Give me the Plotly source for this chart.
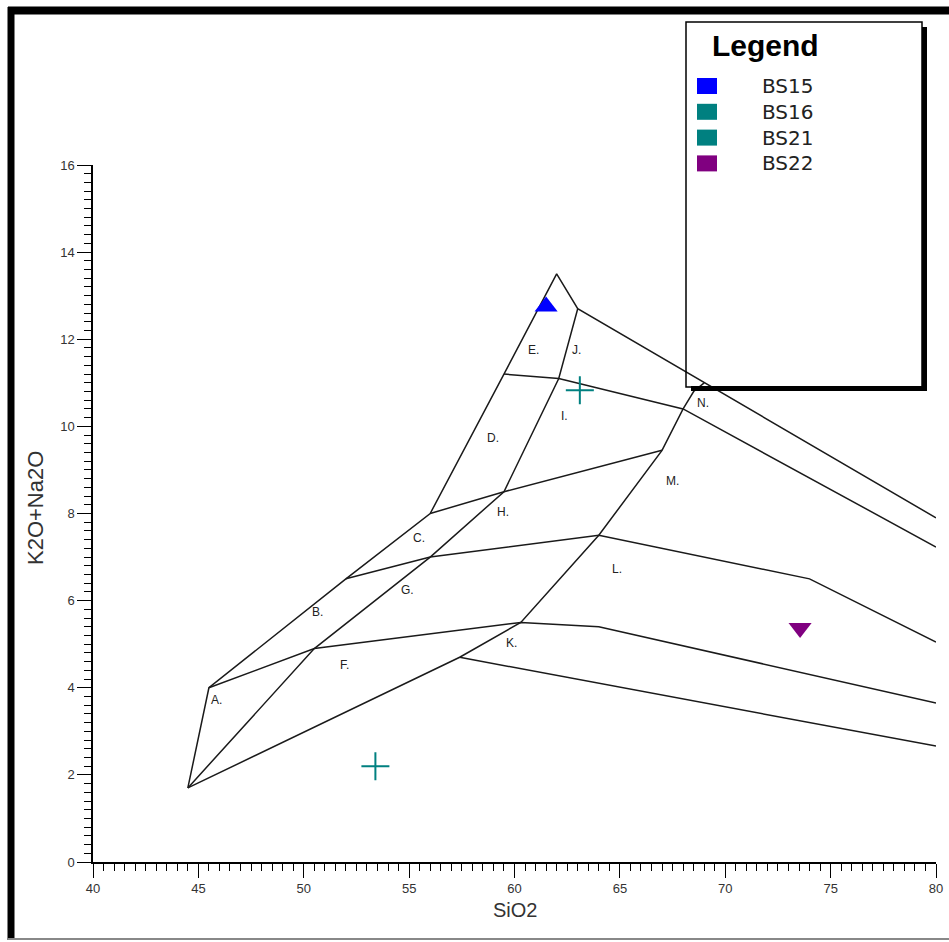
import plotly.graph_objects as go

# --- TAS classification boundary lines (SiO2, K2O+Na2O) ---
outer_x = [44.5, 45.5, 52.0, 56.0, 59.5, 62.0, 63.0, 80.0]
outer_y = [1.7, 4.0, 6.5, 8.0, 11.2, 13.5, 12.7, 7.9]

inner1_x = [44.5, 50.5, 56.0, 59.5, 62.1, 63.0]
inner1_y = [1.7, 4.9, 7.0, 8.5, 11.1, 12.7]

inner2_x = [44.5, 57.4, 60.3, 64.0, 67.0, 68.0, 68.5, 69.0]
inner2_y = [1.7, 4.7, 5.5, 7.5, 9.45, 10.4, 10.8, 11.0]

cross1_x = [45.5, 50.5, 60.3, 64.0, 80.0]
cross1_y = [4.0, 4.9, 5.5, 5.4, 3.65]

cross2_x = [52.0, 56.0, 64.0, 74.0, 80.0]
cross2_y = [6.5, 7.0, 7.5, 6.5, 5.05]

cross3_x = [56.0, 59.5, 67.0]
cross3_y = [8.0, 8.5, 9.45]

cross4_x = [59.5, 62.1, 68.0, 80.0]
cross4_y = [11.2, 11.1, 10.4, 7.23]

cross5_x = [57.4, 80.0]
cross5_y = [4.7, 2.66]

boundaries = [
    (outer_x, outer_y), (inner1_x, inner1_y), (inner2_x, inner2_y),
    (cross1_x, cross1_y), (cross2_x, cross2_y), (cross3_x, cross3_y),
    (cross4_x, cross4_y), (cross5_x, cross5_y),
]

# --- field labels ---
field_labels = ["A.", "B.", "C.", "D.", "E.", "F.", "G.", "H.", "I.", "J.", "K.", "L.", "M.", "N."]
field_x = [45.87, 50.64, 55.47, 58.98, 60.88, 51.92, 54.94, 59.46, 62.35, 62.92, 59.88, 64.87, 67.52, 68.95]
field_y = [3.71, 5.73, 7.43, 9.73, 11.75, 4.52, 6.24, 8.03, 10.24, 11.75, 5.02, 6.72, 8.74, 10.53]

# --- samples ---
sample_names = ["BS15", "BS16", "BS21", "BS22"]
sample_sio2 = [61.5, 63.1, 53.4, 73.55]
sample_alk = [12.75, 10.83, 2.2, 5.37]
sample_colors = ["#0000FF", "#008080", "#008080", "#800080"]
sample_symbols = ["triangle-up", "cross-thin", "cross-thin", "triangle-down"]

# --- layout geometry (pixels) ---
W, H = 949, 942
ML, MR, MT, MB = 93, 13, 165, 80
PW, PH = W - ML - MR, H - MT - MB   # plot-area size in px


def px(xp):
    return (xp - ML) / PW


def py(yp):
    return (H - MB - yp) / PH


fig = go.Figure()

for bx, by in boundaries:
    fig.add_trace(go.Scatter(
        x=bx, y=by, mode="lines",
        line=dict(color="#1a1a1a", width=1.5),
        showlegend=False, hoverinfo="skip",
    ))

for name, sx, sy, col, sym in zip(sample_names, sample_sio2, sample_alk,
                                  sample_colors, sample_symbols):
    if sym == "cross-thin":
        marker = dict(symbol=sym, size=20, line=dict(color=col, width=2))
    else:
        marker = dict(symbol=sym, size=20, color=col, line=dict(width=0))
    fig.add_trace(go.Scatter(
        x=[sx], y=[sy], mode="markers", name=name, marker=marker,
        showlegend=False,
    ))

annotations = []
for lab, lx, ly in zip(field_labels, field_x, field_y):
    annotations.append(dict(
        x=lx, y=ly, xref="x", yref="y", text=lab, showarrow=False,
        font=dict(family="Liberation Sans, Arial", size=12, color="#222"),
    ))

# axis titles
annotations.append(dict(
    x=px(515), y=py(910), xref="paper", yref="paper", text="SiO2",
    showarrow=False, xanchor="center", yanchor="middle",
    font=dict(family="Liberation Sans, Arial", size=20, color="#333"),
))
annotations.append(dict(
    x=px(35), y=py(508), xref="paper", yref="paper", text="K2O+Na2O",
    showarrow=False, xanchor="center", yanchor="middle", textangle=-90,
    font=dict(family="Liberation Sans, Arial", size=22, color="#333"),
))

shapes = []
# window frame
shapes.append(dict(type="line", xref="paper", yref="paper",
                   x0=px(8), x1=px(949), y0=py(10.5), y1=py(10.5),
                   line=dict(color="black", width=8)))
shapes.append(dict(type="line", xref="paper", yref="paper",
                   x0=px(11), x1=px(11), y0=py(7), y1=py(940),
                   line=dict(color="black", width=7)))
shapes.append(dict(type="line", xref="paper", yref="paper",
                   x0=px(8), x1=px(949), y0=py(939), y1=py(939),
                   line=dict(color="#888", width=2)))

# legend box with drop shadow
shapes.append(dict(type="rect", xref="paper", yref="paper",
                   x0=px(922), x1=px(927), y0=py(27), y1=py(391),
                   line=dict(width=0), fillcolor="black"))
shapes.append(dict(type="rect", xref="paper", yref="paper",
                   x0=px(691), x1=px(927), y0=py(386), y1=py(391),
                   line=dict(width=0), fillcolor="black"))
shapes.append(dict(type="rect", xref="paper", yref="paper",
                   x0=px(686), x1=px(922), y0=py(22), y1=py(387),
                   line=dict(color="black", width=1.5)))

annotations.append(dict(
    x=px(710), y=py(45), xref="paper", yref="paper", text="<b>Legend</b>",
    showarrow=False, xanchor="left", yanchor="middle",
    font=dict(family="Liberation Sans, Arial", size=30, color="black"),
))

entry_top = 78
entry_step = 25.8
for i, (name, col) in enumerate(zip(sample_names, sample_colors)):
    y0 = entry_top + i * entry_step
    shapes.append(dict(type="rect", xref="paper", yref="paper",
                       x0=px(697), x1=px(717), y0=py(y0), y1=py(y0 + 16),
                       line=dict(width=0), fillcolor=col))
    annotations.append(dict(
        x=px(760), y=py(y0 + 8), xref="paper", yref="paper", text=name,
        showarrow=False, xanchor="left", yanchor="middle",
        font=dict(family="DejaVu Sans, Verdana", size=20, color="#222"),
    ))

axis_common = dict(
    showline=True, linecolor="black", linewidth=1.5,
    showgrid=False, zeroline=False, ticks="outside",
    ticklen=14, tickwidth=1.3, tickcolor="black",
    tickfont=dict(family="Liberation Sans, Arial", size=13, color="#333"),
    mirror=False, automargin=False, ticklabeloverflow="allow",
)

fig.update_layout(
    width=W, height=H, autosize=False,
    margin=dict(l=ML, r=MR, t=MT, b=MB, pad=0, autoexpand=False),
    paper_bgcolor="white", plot_bgcolor="white",
    xaxis=dict(range=[40, 80], dtick=5, tick0=40,
               minor=dict(dtick=0.5, ticks="outside", ticklen=7, tickwidth=1.2, tickcolor="black"),
               **axis_common),
    yaxis=dict(range=[0, 16], dtick=2, tick0=0,
               minor=dict(dtick=0.2, ticks="outside", ticklen=7, tickwidth=1.2, tickcolor="black"),
               **axis_common),
    shapes=shapes,
    annotations=annotations,
    showlegend=False,
)

fig.write_html("out.html", config=dict(responsive=False))
